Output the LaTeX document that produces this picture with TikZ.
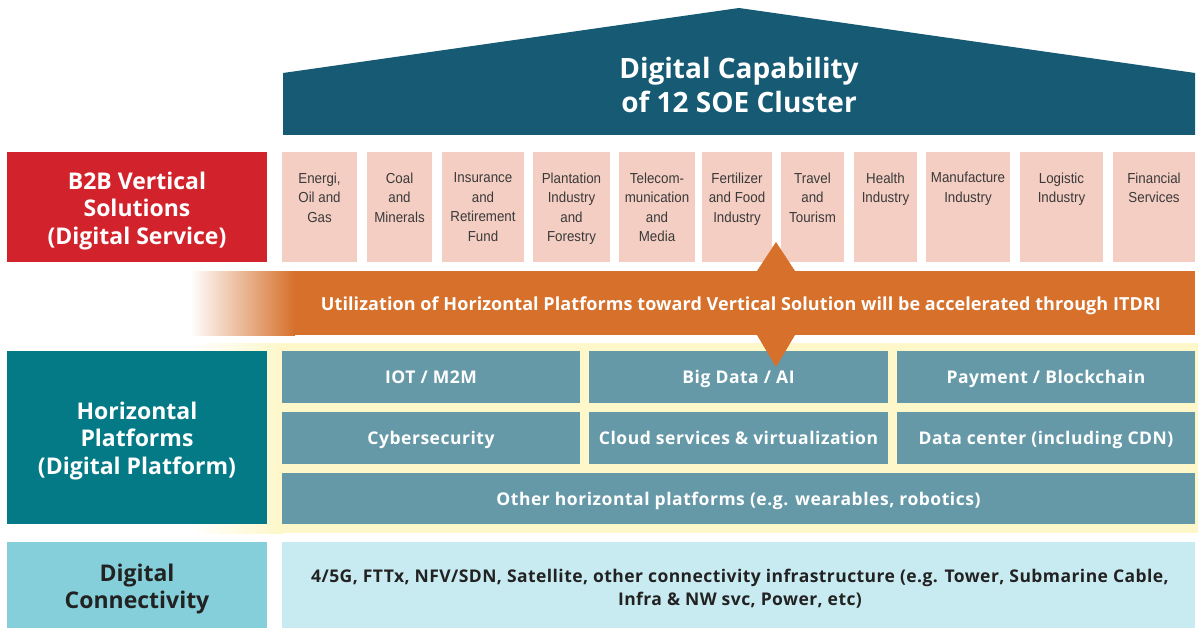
\documentclass[tikz,border=0pt]{standalone}
\usepackage{fontspec}
\setmainfont{Open Sans}
\newfontfamily\narrowfont{Liberation Sans}[FakeStretch=0.92]
\definecolor{roofc}{HTML}{165A74}
\definecolor{redc}{HTML}{D2232D}
\definecolor{pinkc}{HTML}{F4CEC2}
\definecolor{orangec}{HTML}{D6702B}
\definecolor{tealc}{HTML}{037A86}
\definecolor{platc}{HTML}{6699A8}
\definecolor{yellowc}{HTML}{FEF7C9}
\definecolor{connl}{HTML}{85CFDA}
\definecolor{connr}{HTML}{C8EAF1}
\definecolor{vtext}{HTML}{3A3A3A}
\definecolor{dtext}{HTML}{222222}
\tikzset{
  cell/.style={draw=none, inner sep=0pt, outer sep=0pt, anchor=north west},
  vert/.style={cell, fill=pinkc},
  plat/.style={cell, fill=platc},
  vtxt/.style={anchor=north, align=center, inner sep=0pt, text=vtext,
    font=\narrowfont\fontsize{14.5}{19.6}\selectfont, execute at begin node=\strut},
  ltxt/.style={anchor=north, align=center, inner sep=0pt, text=white,
    font=\bfseries\fontsize{23}{27.8}\selectfont, execute at begin node=\strut},
  ptxt/.style={anchor=base, inner sep=0pt, text=white,
    font=\bfseries\fontsize{17.5}{20}\selectfont\addfontfeatures{LetterSpace=3}},
}
\newcommand\cellat[6]{%
  \node[#6, minimum width={(#4-#2)*1pt}, minimum height={(#5-#3)*1pt}] (#1) at (#2,#3) {};}
\newcommand\vertcell[4]{%
  \cellat{#1}{#2}{152}{#3}{262}{vert}
  \node[vtxt] (#1t) at ([yshift=-20.3pt]#1.north) {#4};}
\begin{document}
\begin{tikzpicture}[x=1pt, y=-1pt]
\useasboundingbox (0,0) rectangle (1198,628);
% roof
\fill[roofc] (283,135) -- (283,73) -- (739,8) -- (1195,73) -- (1195,135) -- cycle;
\node[anchor=north, align=center, inner sep=0pt, text=white,
  font=\bfseries\fontsize{28}{34}\selectfont, execute at begin node=\strut]
  (roof) at (739,57.4) {Digital Capability\\of 12 SOE Cluster};
% B2B
\cellat{b2b}{7}{152}{267}{262}{cell, fill=redc}
\node[ltxt] (b2bt) at (137,171.5) {B2B Vertical\\Solutions\\(Digital Service)};
\vertcell{v1}{282}{357}{Energi,\\Oil and\\Gas}
\vertcell{v2}{367}{432}{Coal\\and\\Minerals}
\vertcell{v3}{442}{524}{Insurance\\and\\Retirement\\Fund}
\vertcell{v4}{533}{610}{Plantation\\Industry\\and\\Forestry}
\vertcell{v5}{619}{695}{Telecom-\\munication\\and\\Media}
\vertcell{v6}{702}{772}{Fertilizer\\and Food\\Industry}
\vertcell{v7}{781}{844}{Travel\\and\\Tourism}
\vertcell{v8}{854}{917}{Health\\Industry}
\vertcell{v9}{926}{1010}{Manufacture\\Industry}
\vertcell{v10}{1020}{1103}{Logistic\\Industry}
\vertcell{v11}{1113}{1195}{Financial\\Services}
% yellow background of platforms
\shade[left color=white, right color=yellowc] (190,343) rectangle (283,533);
\fill[yellowc] (282.5,343) rectangle (1198,533);
% orange band
\shade[left color=white, right color=orangec] (190,271) rectangle (295,335);
\fill[orangec] (294.5,271) rectangle (1195,335);
% horizontal platforms
\cellat{hp}{7}{351}{267}{524}{cell, fill=tealc}
\node[ltxt] (hpt) at (137,401.5) {Horizontal\\Platforms\\(Digital Platform)};
\cellat{p1}{282}{351}{580}{403}{plat}
\cellat{p2}{589}{351}{888}{403}{plat}
\cellat{p3}{897}{351}{1195}{403}{plat}
\cellat{p4}{282}{412}{580}{464}{plat}
\cellat{p5}{589}{412}{888}{464}{plat}
\cellat{p6}{897}{412}{1195}{464}{plat}
\cellat{p7}{282}{473}{1195}{524}{plat}
\node[ptxt] at ([yshift=-6.5pt]p1.center) {IOT / M2M};
\node[ptxt] at ([yshift=-6.5pt]p2.center) {Big Data / AI};
\node[ptxt] at ([yshift=-6.5pt]p3.center) {Payment / Blockchain};
\node[ptxt] at ([yshift=-6.5pt]p4.center) {Cybersecurity};
\node[ptxt] at ([yshift=-6.5pt]p5.center) {Cloud services \& virtualization};
\node[ptxt] at ([yshift=-6.5pt]p6.center) {Data center (including CDN)};
\node[ptxt] at ([yshift=-6.5pt]p7.center) {Other horizontal platforms (e.g. wearables, robotics)};
% arrow (diamond through the band)
\fill[orangec] (776,242) -- (757,271) -- (757,335) -- (776,367) -- (795,335) -- (795,271) -- cycle;
\node[anchor=base, inner sep=0pt, text=white,
  font=\bfseries\fontsize{18}{20}\selectfont\addfontfeatures{LetterSpace=0.5}]
  (band) at (741,310) {Utilization of Horizontal Platforms toward Vertical Solution will be accelerated through ITDRI};
% connectivity
\cellat{dc}{7}{542}{267}{628}{cell, fill=connl}
\node[ltxt, text=dtext] (dct) at (137,563.5) {Digital\\Connectivity};
\cellat{dcr}{282}{542}{1195}{628}{cell, fill=connr}
\node[anchor=north, align=center, inner sep=0pt, text=dtext,
  font=\bfseries\fontsize{17.5}{23}\selectfont\addfontfeatures{LetterSpace=2.5}, execute at begin node=\strut]
  (dcrt) at (740,568.5) {4/5G, FTTx, NFV/SDN, Satellite, other connectivity infrastructure (e.g. Tower, Submarine Cable,\\Infra \& NW svc, Power, etc)};
\end{tikzpicture}
\end{document}
